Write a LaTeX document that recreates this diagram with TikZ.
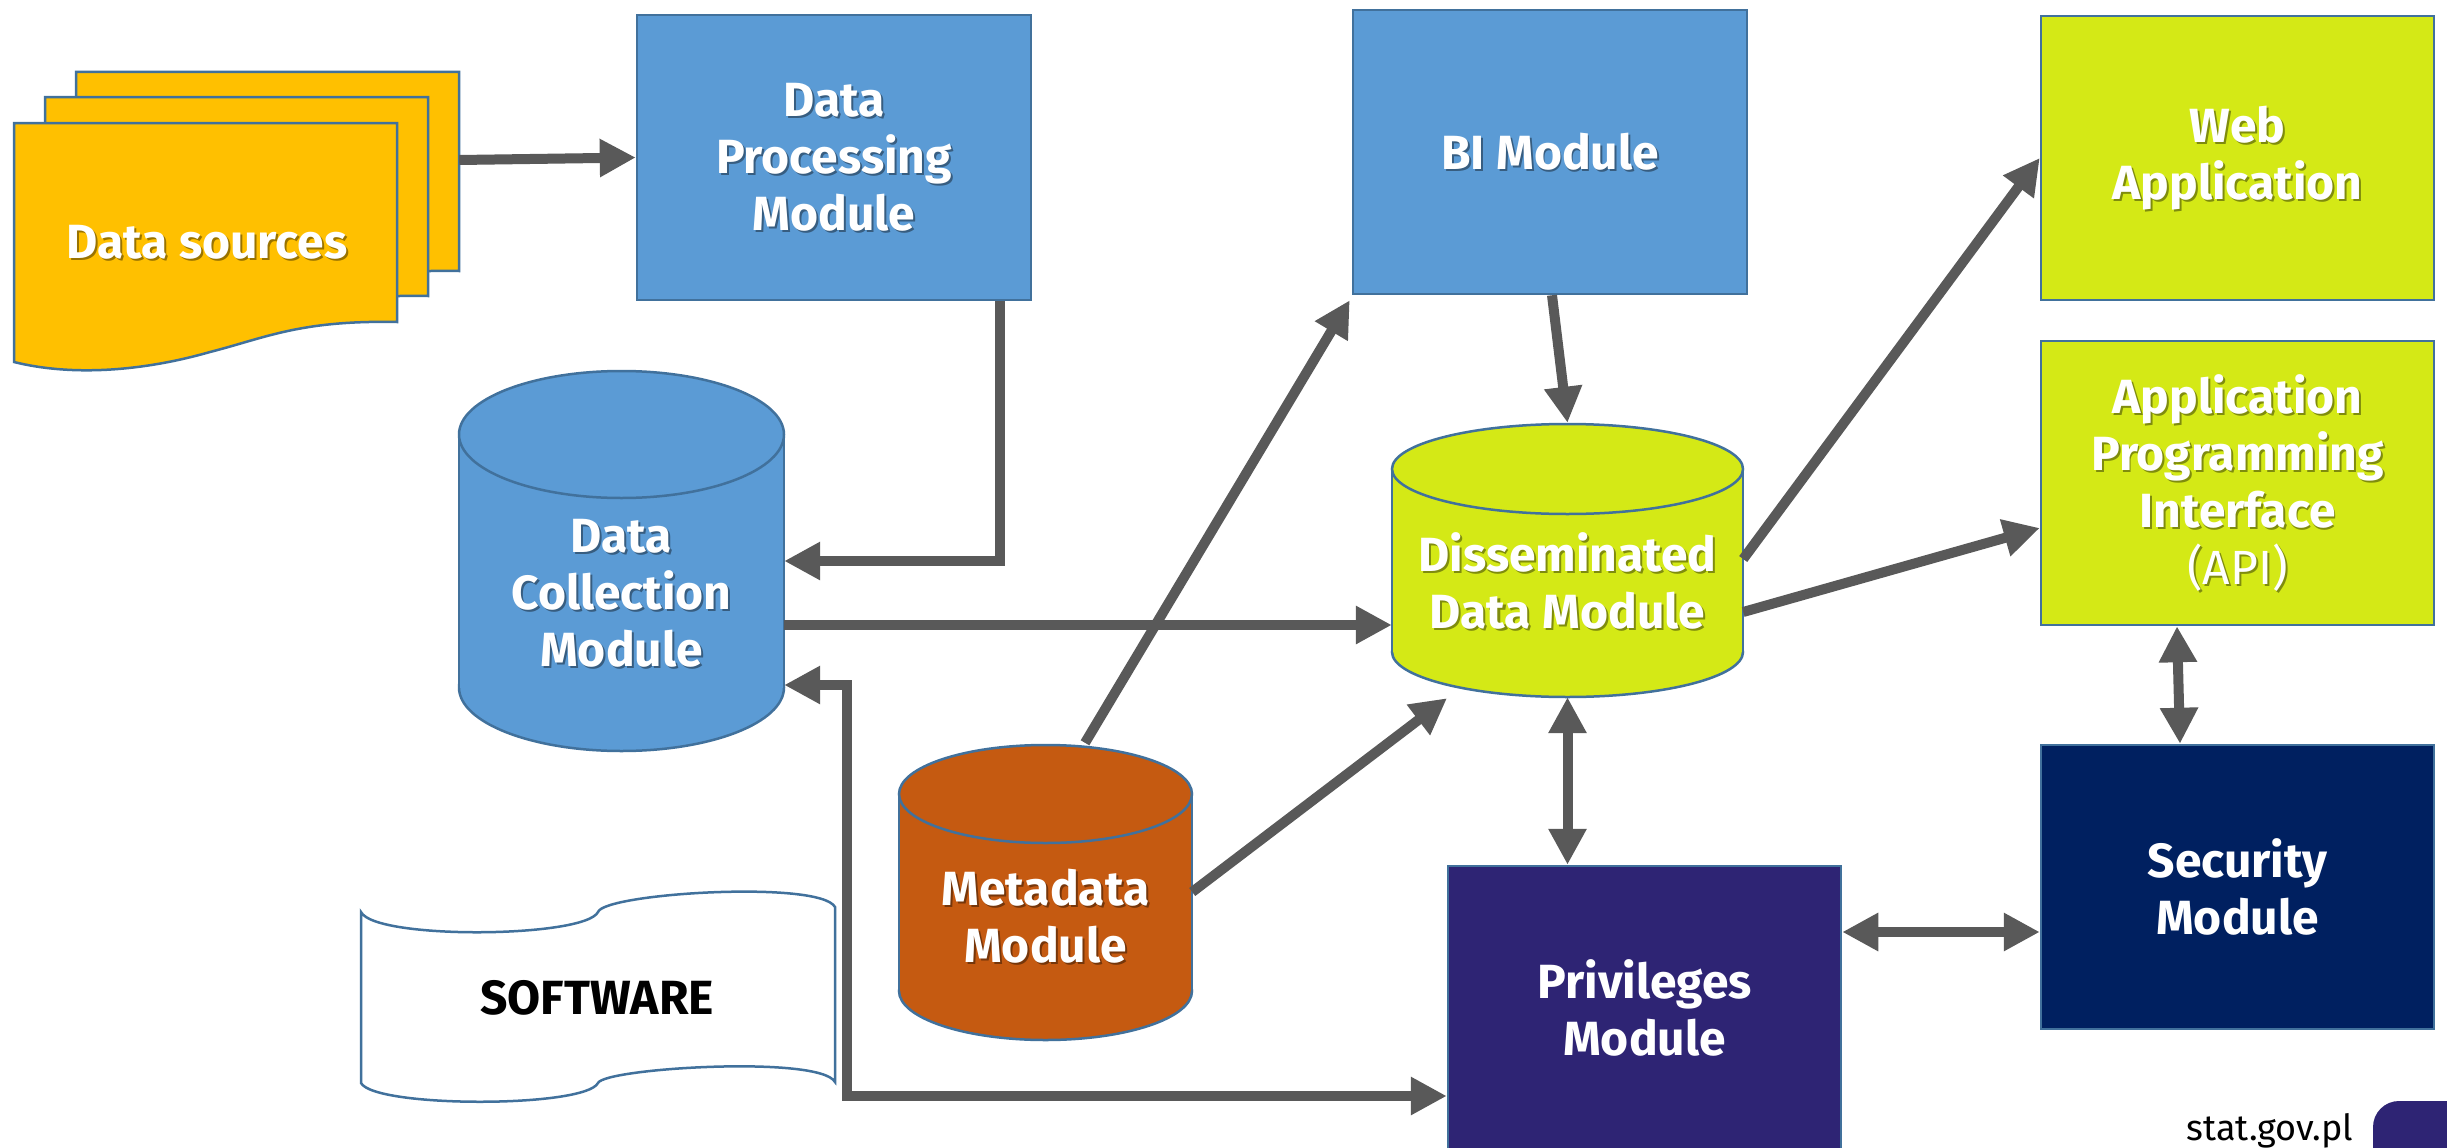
\documentclass[tikz,border=0pt]{standalone}
\usepackage{fontspec}
\setmainfont{Fira Sans}
\usetikzlibrary{arrows.meta,calc}
\definecolor{cBorder}{HTML}{41719C}
\definecolor{cBlue}{HTML}{5B9BD5}
\definecolor{cLime}{HTML}{D4E916}
\definecolor{cOrange}{HTML}{FFC000}
\definecolor{cMeta}{HTML}{C55A11}
\definecolor{cPriv}{HTML}{2E2474}
\definecolor{cSec}{HTML}{002060}
\definecolor{cArrow}{HTML}{595959}
\colorlet{shc}{black!50}
\newcommand\shd[1]{\leavevmode\rlap{\kern2pt\raisebox{-2pt}[0pt][0pt]{\textcolor{shc}{#1}}}#1}
\newcommand\drawcyl[6]{%
  \filldraw[cylbody=#1] (#2,#5-#6) ellipse[x radius=#3pt, y radius=#6pt];
  \fill[#1] (#2-#3,#4+#6) rectangle (#2+#3,#5-#6);
  \draw[draw=cBorder,line width=2.5pt] (#2-#3,#4+#6) -- (#2-#3,#5-#6) (#2+#3,#4+#6) -- (#2+#3,#5-#6);
  \filldraw[cylbody=#1] (#2,#4+#6) ellipse[x radius=#3pt, y radius=#6pt];
}
\begin{document}
\begin{tikzpicture}[x=1pt,y=-1pt,
  lbl/.style={text=white, font=\fontsize{48}{57}\selectfont\bfseries, align=center, inner sep=0pt},
  shadowof/.style={execute at begin node={\colorlet{shc}{#1!60!black}}},
  modbox/.style={lbl, draw=cBorder, line width=2.5pt, fill=#1, minimum width=393pt, minimum height=284pt, shadowof=#1},
  cylbody/.style={draw=cBorder, line width=2.5pt, fill=#1},
  sheet/.style={draw=cBorder, line width=2.5pt, fill=cOrange},
  conn/.style={draw=cArrow, line width=10pt, -{Triangle[length=36pt,width=36pt]}},
  biconn/.style={draw=cArrow, line width=10pt, {Triangle[length=36pt,width=36pt]}-{Triangle[length=36pt,width=36pt]}},
]
\useasboundingbox (0,0) rectangle (2447,1148);
\clip (0,0) rectangle (2447,1148);
\fill[white] (0,0) rectangle (2447,1148);

% Data sources (three sheets)
\begin{scope}[shift={(62,-51)}]
\filldraw[sheet] (14,123) -- (397,123) -- (397,322) .. controls (300,320) and (265,338) .. (210,352) .. controls (140,372) and (70,376) .. (14,362) -- cycle;
\end{scope}
\begin{scope}[shift={(31,-26)}]
\filldraw[sheet] (14,123) -- (397,123) -- (397,322) .. controls (300,320) and (265,338) .. (210,352) .. controls (140,372) and (70,376) .. (14,362) -- cycle;
\end{scope}
\filldraw[sheet] (14,123) -- (397,123) -- (397,322) .. controls (300,320) and (265,338) .. (210,352) .. controls (140,372) and (70,376) .. (14,362) -- cycle;
\node[inner sep=0pt, minimum width=383pt, minimum height=200pt] (ds3) at (267.5,172) {};
\node[lbl, shadowof=cOrange] (ds) at (207,242) {\shd{Data sources}};

% Software
\filldraw[draw=cBorder, line width=2.5pt, fill=white] (361,912) .. controls (375,940) and (585,938) .. (598,912) .. controls (605,893) and (820,880) .. (835,907) -- (835,1082) .. controls (820,1055) and (605,1068) .. (598,1083) .. controls (585,1108) and (375,1108) .. (361,1083) -- cycle;
\node[font=\fontsize{48}{57}\selectfont\bfseries, text=black, inner sep=0pt] (sw) at (597,998) {SOFTWARE};

% Rectangular modules
\node[modbox=cBlue, minimum width=394pt, minimum height=285pt] (dpm) at (834,157.5) {\shd{Data}\\\shd{Processing}\\\shd{Module}};
\node[modbox=cBlue, minimum width=394pt] (bi) at (1550,152) {\shd{BI Module}};
\node[modbox=cLime] (web) at (2237.5,158) {\shd{Web}\\\shd{Application}};
\node[modbox=cLime] (api) at (2237.5,483) {\shd{Application}\\\shd{Programming}\\\shd{Interface}\\{\mdseries\shd{(API)}}};
\node[modbox=cSec] (sec) at (2237.5,887) {Security\\Module};
\node[modbox=cPriv] (priv) at (1644.5,1008) {Privileges\\Module};

% Cylinders
\drawcyl{cBlue}{621.5}{162.5}{371}{751}{63.5}
\node[lbl, minimum width=325pt, minimum height=316pt, shadowof=cBlue] (dcm) at (621.5,593) {\shd{Data}\\\shd{Collection}\\\shd{Module}};
\drawcyl{cLime}{1567.5}{175.5}{424}{697}{45}
\node[lbl, minimum width=351pt, minimum height=232pt, shadowof=cLime] (ddm) at (1567.5,581) {\shd{Disseminated}\\\shd{Data Module}};
\drawcyl{cMeta}{1045.5}{146.5}{745}{1040}{49}
\node[lbl, minimum width=293pt, minimum height=248pt, shadowof=cMeta] (meta) at (1045.5,916) {\shd{Metadata}\\\shd{Module}};

% Footer
\fill[cPriv, rounded corners=26pt] (2373,1101) rectangle (2530,1230);
\node[anchor=base, font=\fontsize{36}{40}\selectfont, text=black, inner sep=0pt] (url) at (2270,1140) {stat.gov.pl};

% Connectors
\draw[conn] ($(ds3.east)+(0,-12)$) -- (dpm.west);
\draw[conn] ($(dpm.south)+(166,0)$) |- ($(dcm.east)+(0,-32)$);
\draw[conn] ($(dcm.east)+(0,32)$) -- ($(ddm.west)+(0,44)$);
\draw[conn] ($(meta.north)+(39.5,-49)$) -- ($(bi.south west)+(-2,5)$);
\draw[conn] ($(bi.south)+(2,0)$) -- ($(ddm.north)+(0,-42)$);
\draw[conn] ($(meta.east)+(0,-24)$) -- ($(ddm.south)+(-120.5,1)$);
\draw[conn] ($(ddm.east)+(0,-22)$) -- (web.west);
\draw[conn] ($(ddm.east)+(0,31)$) -- ($(api.west)+(0,45)$);
\draw[biconn] (ddm.south) -- (ddm.south |- priv.north);
\draw[biconn] ($(priv.east)+(0,-76)$) -- ($(sec.west)+(0,45)$);
\draw[biconn] ($(api.south)+(-60.5,0)$) -- ($(sec.north)+(-57.5,0)$);
\draw[biconn] ($(dcm.east)+(0,92)$) -- ++(63,0) |- ($(priv.west)+(0,88)$);
\end{tikzpicture}
\end{document}
